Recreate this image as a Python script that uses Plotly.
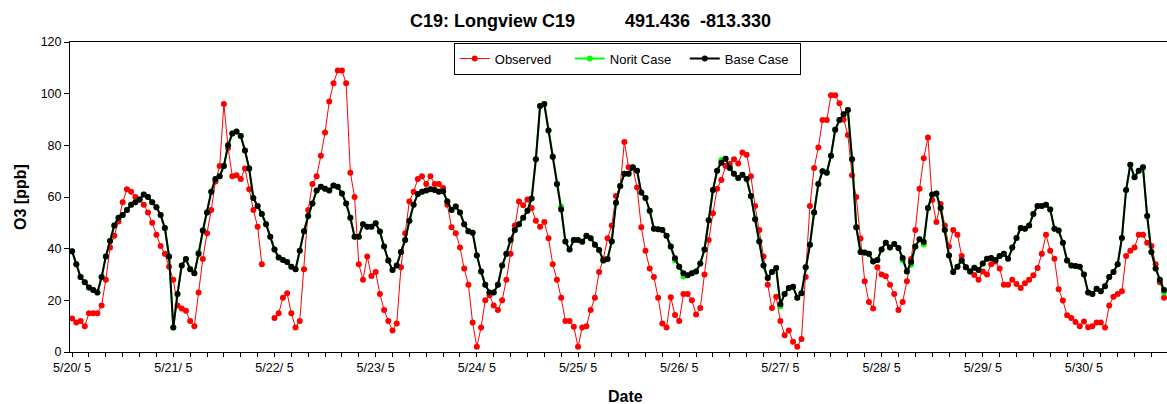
import plotly.graph_objects as go

hours = list(range(260))

observed = [
    13, 11.4, 12, 10, 15, 15, 15, 18, 28, 40.5, 45, 50.5, 58, 63, 62, 60, 59, 57, 54, 50, 45.4, 41, 38, 33,
    28, 18, 16.8, 16, 12, 10, 23, 36, 46, 55, 66, 72, 96, 79, 68, 68.4, 67, 71, 63, 55, 48.5, 34, None, None,
    13.2, 15, 21, 22.7, 15, 9.5, 12, 32, 55, 65, 68, 76, 85, 97, 104, 109, 109, 104, 69.4, 60, 34, 28, 37, 29.4,
    31, 22.5, 16.3, 12, 8.3, 11, 32.8, 46, 58.3, 62, 67, 68, 65, 68, 65, 65, 63.5, 57, 48.3, 46, 40.5, 32.3, 26, 11.4,
    2, 9.5, 20, 22, 18, 16.3, 20, 28, 38, 49, 58.3, 56.8, 59, 55.7, 50.8, 48.5, 50.3, 44, 34, 28, 21, 12, 12, 9.8,
    2, 9.5, 10, 16.3, 21, 31, 36, 44, 49, 60.4, 64.3, 81.3, 71.5, 71.2, 63.7, 48.3, 39.2, 32.3, 29, 21, 11, 9.5, 21.2, 14.3,
    12, 22.5, 22.5, 20, 14.5, 17, 30, 43.4, 53.7, 63.2, 66.6, 72, 72.8, 74.6, 73, 77.2, 76.4, 68, 56.5, 47.2, 37, 26, 17, 21.4,
    12, 6.5, 8.3, 4, 2, 5, 29, 56.5, 71.2, 79.2, 89.8, 89.8, 99.4, 99.4, 96.3, 90, 84, 68.4, 60, 43.9, 27.4, 19.4, 16.8, 32.8,
    30, 29.3, 26, 22.5, 16.3, 19.4, 27.4, 36, 47.2, 63.2, 75, 83, 58.8, 50.3, 57.3, 49, 40.8, 47.2, 45.4, 37.2, 32.8, 31.2, 29.8, 28,
    31.2, 30, 34, 35, 32.3, 26, 26, 28, 26.3, 24.8, 26.6, 28, 29.7, 32.5, 38, 45.4, 39.2, 36.1, 24.3, 19.9, 14.2, 13.2, 11.6, 10,
    11.8, 9.6, 10, 11.4, 11.4, 9.5, 18, 21.4, 22.5, 23.5, 37.2, 39.2, 40.5, 45.4, 45.4, 42.3, 41, 34, 27, 21,
]

norit_case = [
    39, 34, 29, 27, 25, 24, 23, 29, 37, 43, 49, 52, 53, 55, 57, 58, 59, 61, 60, 58, 56, 53, 48, 37,
    9.5, 22.5, 33.5, 36, 32, 30.5, 38.5, 47, 54, 62, 67, 68, 72, 80, 84.6, 85.4, 83.6, 78, 71, 59.6, 56.5, 53.4, 49.5, 44.6,
    39.7, 36.6, 35.6, 34.8, 33, 32, 39.2, 46.7, 52.6, 57.5, 62.5, 64, 63.2, 62.5, 64.5, 64, 61.4, 57.5, 52, 44.6, 44.6, 49.5, 48.5, 48.5,
    49.8, 46.6, 40.8, 35.4, 31.7, 33.5, 38.7, 43.4, 50.8, 57, 61.2, 62, 62.5, 63, 62.7, 62, 62.2, 58.3, 55, 56.3, 54, 49.5, 46.7, 46.2,
    37.4, 31.2, 26, 23, 23, 26, 33.5, 38, 43.4, 47.2, 49.5, 52, 54.7, 59.4, 74.6, 95.2, 96, 85.7, 75.6, 65, 56.2, 42.8, 39.7, 43.4,
    43.4, 42.7, 45, 44, 41.5, 39.5, 35.4, 36, 42.8, 57.8, 64.3, 69, 69, 71.5, 70.2, 61.7, 59.6, 54.7, 47.7, 47.5, 47.2, 45, 40.8, 35.4,
    33, 29.2, 29.7, 30.5, 31.2, 34.3, 39.7, 51, 62.7, 70.2, 74.3, 74.8, 71.2, 69, 67.4, 68.6, 67, 60.4, 51.4, 42.8, 33.5, 28.6, 31, 32.5,
    17.6, 22.5, 24.8, 25.3, 21, 22.7, 32.8, 41.5, 54, 65, 70, 69.4, 76, 86, 89.8, 92, 93.7, 74.6, 48.3, 38.7, 38.5, 38, 35, 35.6,
    39.7, 42.3, 40.5, 41.8, 40.3, 35.5, 31.2, 33.8, 40.8, 43.6, 41.6, 55.7, 61, 61.4, 55.7, 47.2, 37.4, 31, 33, 35.4, 32.8, 31.2, 32.6, 31.7,
    34.3, 36.1, 36.4, 35.6, 37.2, 38, 36.1, 40.5, 44.1, 48, 47.7, 49, 53.4, 56.5, 56.5, 57, 55.2, 47.7, 47, 42.3, 35.4, 33.5, 33.3, 33,
    30, 23, 22.5, 24.5, 23.5, 25.5, 29, 31, 34, 44.1, 62.7, 72.5, 67.6, 70.2, 71.5, 52.6, 38.7, 32.3, 28, 23,
]

base_case = [
    39, 34, 29, 27, 25, 24, 23, 29, 37, 43, 49, 52, 53, 55, 57, 58, 59, 61, 60, 58, 56, 53, 48, 37,
    9.5, 22.5, 33.5, 36, 32, 30.5, 38, 47, 54, 62, 67, 68, 72, 80, 84.6, 85.4, 83.6, 78, 71, 59.6, 56.5, 53.4, 49.5, 44.6,
    39.7, 36.6, 35.6, 34.8, 33, 32, 39.2, 46.7, 52.6, 57.5, 62.5, 64, 63.2, 62.5, 64.5, 64, 61.4, 57.5, 52, 44.6, 44.6, 49.5, 48.5, 48.5,
    49.8, 46.6, 40.8, 35.4, 31.7, 33.5, 38.7, 43.4, 50.8, 57, 61.2, 62, 62.5, 63, 62.7, 62, 62.2, 58.3, 55, 56.3, 54, 49.5, 46.7, 46.2,
    37.4, 31.2, 26, 23, 23, 26, 33.5, 38, 43.4, 47.2, 49.5, 52, 54.7, 59.4, 74.6, 95.2, 96, 85.7, 75.6, 65, 55.2, 42.8, 39.7, 43.4,
    43.4, 42.7, 45, 44, 41.5, 39.5, 35.4, 36, 42.8, 57.8, 64.3, 69, 69, 71.5, 70.2, 61.7, 59.6, 54.7, 47.7, 47.5, 47.2, 45, 40.8, 36.3,
    33, 30.5, 29.7, 30.5, 31.2, 34.3, 39.7, 51, 62.7, 70.2, 73.3, 74.8, 71.2, 69, 67.4, 68.6, 67, 60.4, 51.4, 42.8, 33.5, 28.6, 31, 32.5,
    18.5, 22.5, 24.8, 25.3, 21, 22.7, 32.8, 41.5, 54, 65, 70, 69.4, 76, 86, 89.8, 92, 93.7, 74.6, 48.3, 38.7, 38.5, 38, 35, 35.6,
    39.7, 42.3, 40.5, 41.8, 40.3, 36.4, 31.2, 34.8, 40.8, 43.6, 42.6, 55.7, 61, 61.4, 55.7, 47.2, 37.4, 31, 33, 35.4, 32.8, 31.2, 32.6, 31.7,
    34.3, 36.1, 36.4, 35.6, 37.2, 38, 36.1, 40.5, 44.1, 48, 47.7, 49, 53.4, 56.5, 56.5, 57, 55.2, 47.7, 47, 42.3, 35.4, 33.5, 33.3, 33,
    30, 23, 22.5, 24.5, 23.5, 25.5, 29, 31, 34, 44.1, 62.7, 72.5, 67.6, 70.2, 71.5, 52.6, 38.7, 32.3, 28, 24,
]

date_ticks = [0, 24, 48, 72, 96, 120, 144, 168, 192, 216, 240]
date_labels = ["5/20/ 5", "5/21/ 5", "5/22/ 5", "5/23/ 5", "5/24/ 5", "5/25/ 5",
               "5/26/ 5", "5/27/ 5", "5/28/ 5", "5/29/ 5", "5/30/ 5"]
y_ticks = [0, 20, 40, 60, 80, 100, 120]

FONT = "Arial, 'Liberation Sans', sans-serif"

fig = go.Figure()
fig.add_trace(go.Scatter(
    x=hours, y=observed, name="Observed", mode="lines+markers",
    line=dict(color="#FF0000", width=1), marker=dict(color="#FF0000", size=6),
    connectgaps=False))
fig.add_trace(go.Scatter(
    x=hours, y=norit_case, name="Norit Case", mode="lines+markers",
    line=dict(color="#00FF00", width=2), marker=dict(color="#00FF00", size=6)))
fig.add_trace(go.Scatter(
    x=hours, y=base_case, name="Base Case", mode="lines+markers",
    line=dict(color="#000000", width=2), marker=dict(color="#000000", size=6)))

fig.update_layout(
    width=1167, height=404,
    margin=dict(l=70, r=0, t=42, b=52),
    paper_bgcolor="white", plot_bgcolor="white",
    font=dict(family=FONT, size=12, color="black"),
    title=dict(
        text="<b>C19: Longview C19" + "\u00a0" * 10 + "491.436\u00a0\u00a0-813.330</b>",
        x=0.506, xanchor="center", xref="container",
        y=0.948, yanchor="middle", yref="container",
        font=dict(family=FONT, size=18, color="black")),
    showlegend=True,
    legend=dict(
        orientation="h", x=0.508, xanchor="center", y=0.998, yanchor="top",
        bordercolor="black", borderwidth=1, bgcolor="white",
        font=dict(family=FONT, size=13, color="black"),
        itemwidth=30, tracegroupgap=0, entrywidth=70, entrywidthmode="pixels"),
    xaxis=dict(
        range=[-0.5, 259.7], tickmode="array", tickvals=date_ticks, ticktext=date_labels,
        ticks="outside", ticklen=4, tickcolor="black", showgrid=False, zeroline=False,
        showline=True, linecolor="black", linewidth=1, mirror=True,
        minor=dict(tick0=0, dtick=4, ticks="outside", ticklen=4, tickcolor="black", showgrid=False),
        tickfont=dict(family=FONT, size=12.5, color="black")),
    yaxis=dict(
        range=[0, 120], tickmode="array", tickvals=y_ticks,
        ticks="outside", ticklen=5, tickcolor="black", showgrid=False, zeroline=False,
        showline=True, linecolor="black", linewidth=1,
        tickfont=dict(family=FONT, size=12.5, color="black")),
    annotations=[
        dict(text="<b>Date</b>", xref="paper", yref="paper", x=0.506, y=-0.145,
             xanchor="center", yanchor="middle", showarrow=False,
             font=dict(family=FONT, size=16, color="black")),
        dict(text="<b>O3 [ppb]</b>", xref="paper", yref="paper", x=-0.0456, y=0.5,
             xanchor="center", yanchor="middle", textangle=-90, showarrow=False,
             font=dict(family=FONT, size=16, color="black")),
    ],
)

fig.write_html("out.html", config={"displayModeBar": False},
               post_script="document.body.style.margin='0px';document.body.style.overflow='hidden';")
